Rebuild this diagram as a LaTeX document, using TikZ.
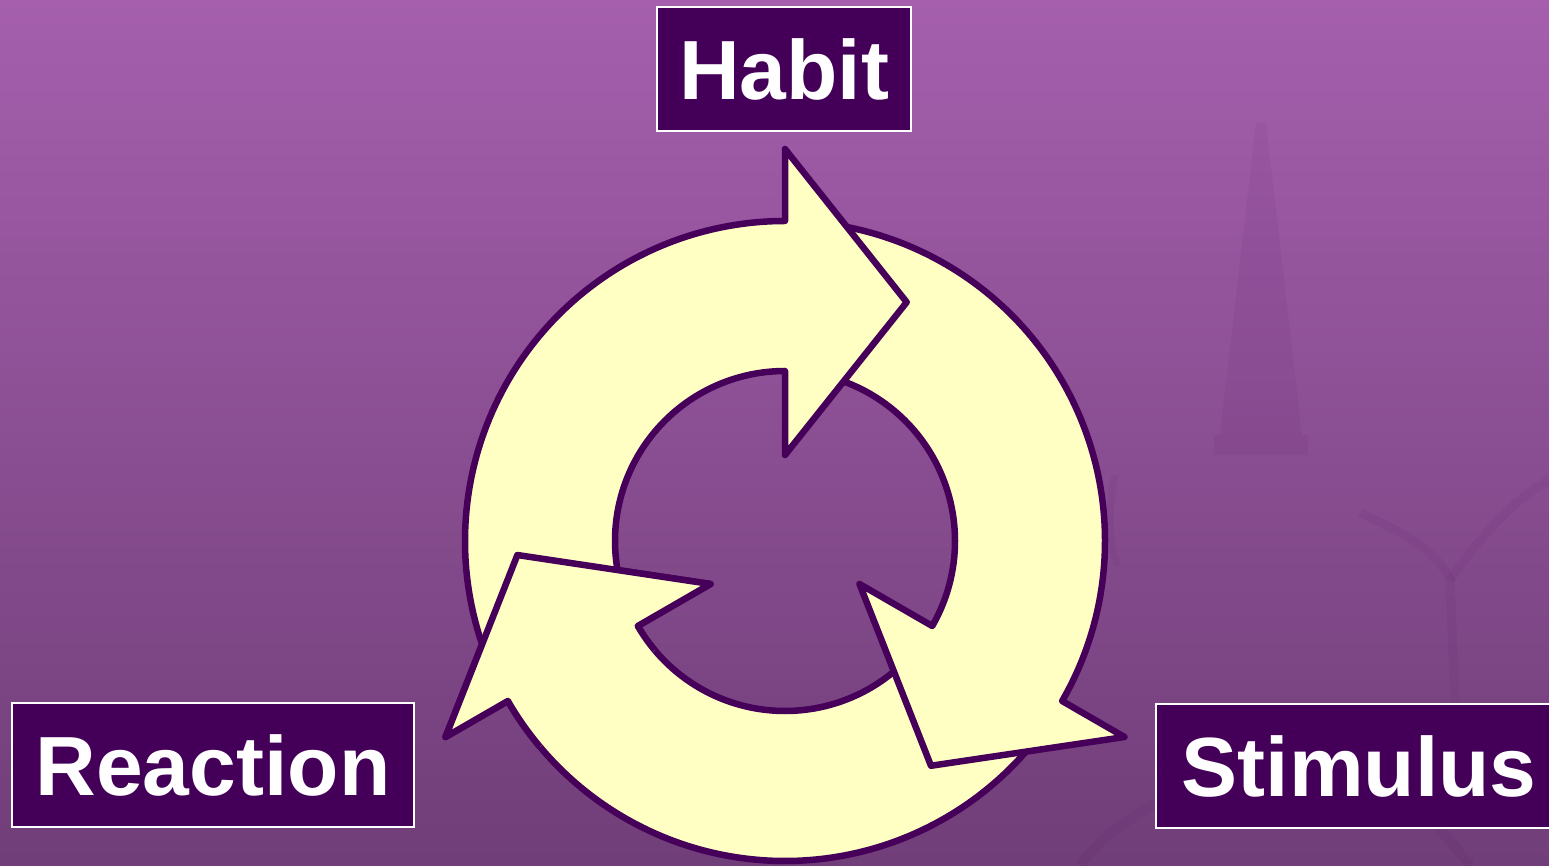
\documentclass[tikz,border=0pt]{standalone}
\usepackage{fontspec}
\setmainfont{Liberation Sans}
\definecolor{bgtop}{RGB}{165,95,173}
\definecolor{bgbot}{RGB}{112,62,120}
\definecolor{ringfill}{RGB}{255,255,196}
\definecolor{ringline}{RGB}{70,0,90}
\definecolor{boxfill}{RGB}{68,0,88}
\newcommand\cyclearrow[1]{%
  \path[ringarrow] ({#1+114}:320) arc[start angle={#1+114}, end angle={#1}, radius=320]
    -- ({#1}:392) -- ({#1-27}:268) -- ({#1}:86) -- ({#1}:170)
    arc[start angle={#1}, end angle={#1+114}, radius=170] -- cycle;}
\begin{document}
\begin{tikzpicture}[x=1pt,y=1pt,
  labelbox/.style={draw=white, line width=2.5pt, fill=boxfill, text=white,
    inner sep=0pt, minimum height=124pt, font=\fontsize{84}{84}\selectfont\bfseries},
  ringarrow/.style={fill=ringfill, draw=ringline, line width=6.5pt, line join=round},
  watermark/.style={ringline, opacity=0.055}]
\useasboundingbox (0,0) rectangle (1549,865);
\clip (0,0) rectangle (1549,865);
\shade[top color=bgtop, bottom color=bgbot] (0,0) rectangle (1549,865);
% faint background picture
\fill[watermark] (1256,742) -- (1266,742) -- (1302,430) -- (1220,430) -- cycle;
\fill[watermark] (1214,430) rectangle (1308,410);
\draw[watermark, line width=9pt] (1360,352) .. controls (1410,330) and (1440,310) .. (1450,285)
  -- (1455,160);
\draw[watermark, line width=9pt] (1450,285) .. controls (1480,330) and (1520,370) .. (1549,385);
\draw[watermark, line width=7pt] (1115,390) .. controls (1108,360) and (1108,320) .. (1118,300);
\draw[watermark, line width=10pt] (1080,0) .. controls (1150,90) and (1300,120) .. (1420,60) -- (1470,0);
% ring of three arrows: each head lies over the tail of the next
\begin{scope}[shift={(785,324)}]
  \cyclearrow{210}
  \cyclearrow{-30}
  \cyclearrow{90}
  \begin{scope}
    \clip (0,0) -- (220:440) arc[start angle=220, end angle=170, radius=440] -- cycle;
    \cyclearrow{210}
  \end{scope}
\end{scope}
% labels
\node[labelbox, minimum width=254pt] (habit) at (784,796) {Habit};
\node[labelbox, minimum width=402pt] (reaction) at (213,100) {Reaction};
\node[labelbox, minimum width=406pt] (stimulus) at (1359,99) {Stimulus};
\end{tikzpicture}
\end{document}
